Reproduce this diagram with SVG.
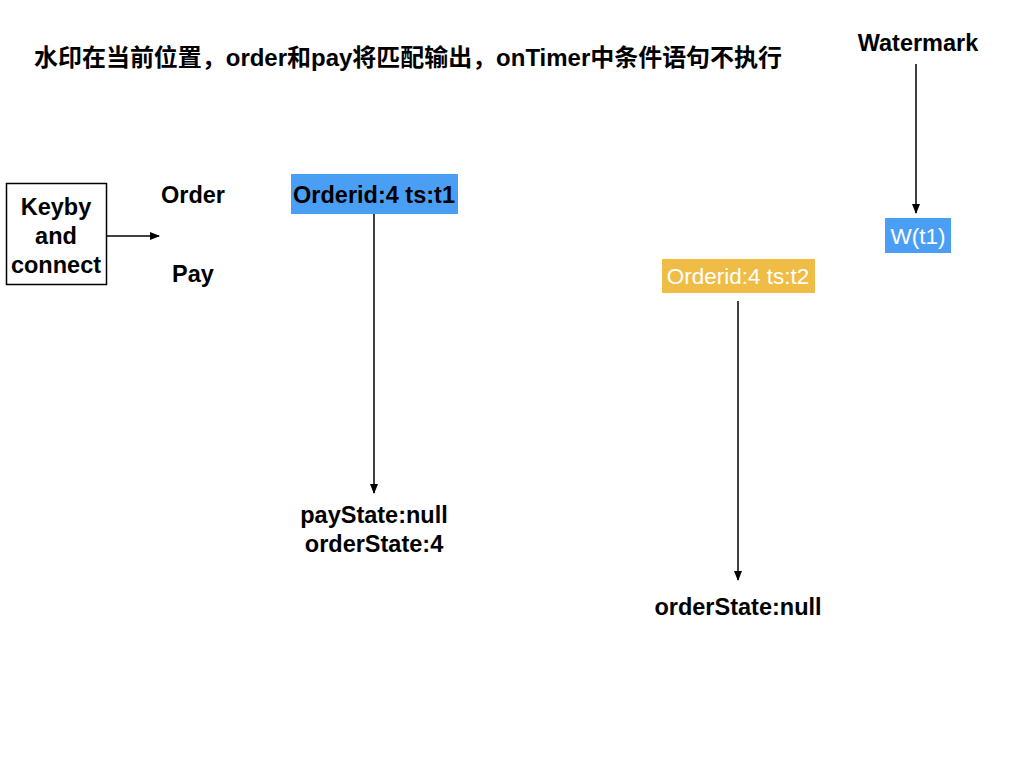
<svg xmlns="http://www.w3.org/2000/svg" width="1024" height="768" viewBox="0 0 1024 768">
<style>
text{font-family:"Liberation Sans","Noto Sans CJK SC",sans-serif;fill:#000}
.b{font-weight:bold;font-size:23.5px}
.c{text-anchor:middle}
.w{fill:#fff;font-size:22.5px}
.ln{stroke:#000;stroke-width:1.5;fill:none}
</style>
<defs>
<marker id="ah" markerWidth="10" markerHeight="10" refX="9" refY="5" orient="auto" markerUnits="userSpaceOnUse">
<path d="M0,1 L10,5 L0,9 Z" fill="#000"/>
</marker>
</defs>
<rect width="1024" height="768" fill="#fff"/>
<g id="title"><text x="34" y="66" font-size="24" font-weight="bold" textLength="748" lengthAdjust="spacingAndGlyphs">水印在当前位置，order和pay将匹配输出，onTimer中条件语句不执行</text></g>
<g id="keyby">
<rect x="6.5" y="183.5" width="100" height="101" fill="#fff" stroke="#000" stroke-width="1.5"/>
<text class="b c" x="56" y="215">Keyby</text>
<text class="b c" x="56" y="244">and</text>
<text class="b c" x="56" y="273">connect</text>
</g>
<g id="order"><text class="b c" x="193" y="203">Order</text></g>
<g id="pay"><text class="b c" x="193" y="282">Pay</text></g>
<g id="order1">
<rect x="291" y="174" width="167" height="40" fill="#4A9FF5"/>
<text class="b c" x="374" y="203">Orderid:4 ts:t1</text>
</g>
<g id="state1">
<text class="b c" x="374" y="523">payState:null</text>
<text class="b c" x="374" y="552">orderState:4</text>
</g>
<g id="watermark"><text class="b c" x="918" y="51">Watermark</text></g>
<g id="w1">
<rect x="885" y="218" width="66" height="35" fill="#4A9FF5"/>
<text class="w c" x="918" y="244">W(t1)</text>
</g>
<g id="order2">
<rect x="662" y="259" width="153" height="34" fill="#EFBD45"/>
<text class="w c" x="738" y="284">Orderid:4 ts:t2</text>
</g>
<g id="state2"><text class="b c" x="738" y="615">orderState:null</text></g>
<g id="connectors">
<line class="ln" x1="107" y1="236" x2="159" y2="236" marker-end="url(#ah)"/>
<line class="ln" x1="374" y1="214" x2="374" y2="493" marker-end="url(#ah)"/>
<line class="ln" x1="916" y1="64" x2="916" y2="213" marker-end="url(#ah)"/>
<line class="ln" x1="738" y1="301" x2="738" y2="580" marker-end="url(#ah)"/>
</g>
</svg>
